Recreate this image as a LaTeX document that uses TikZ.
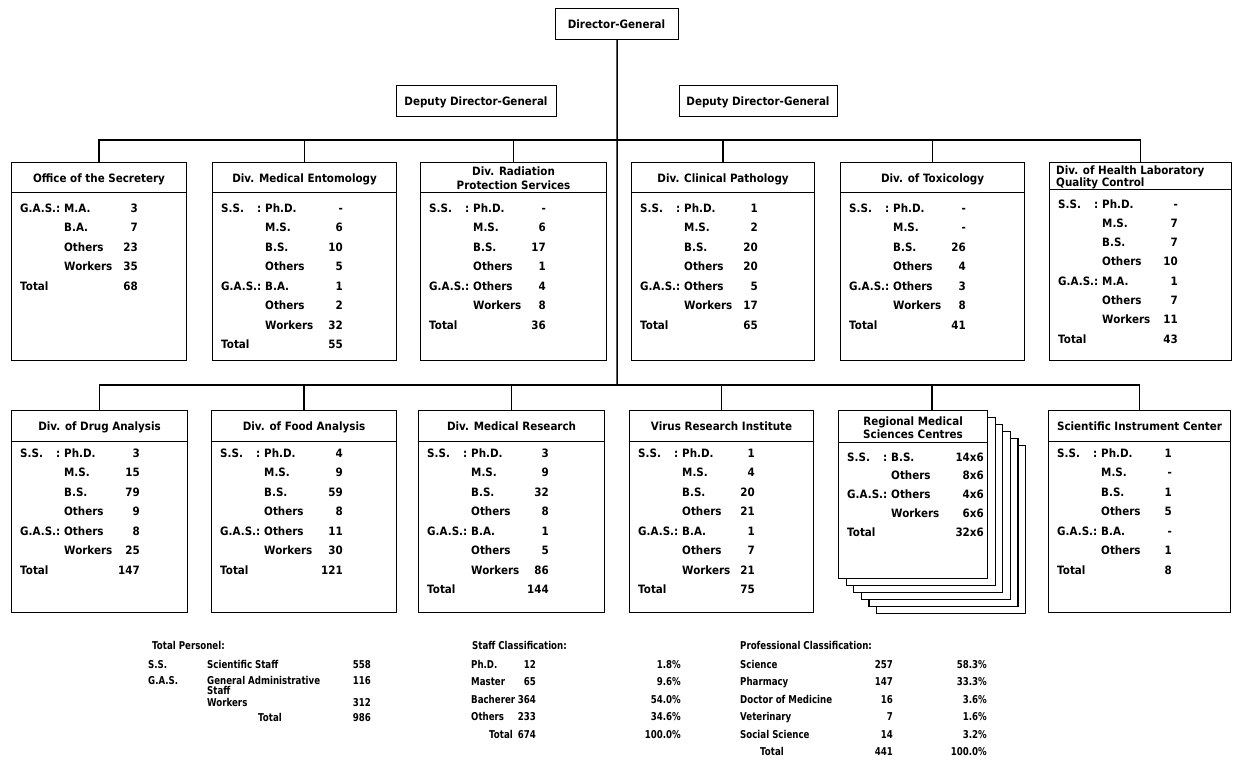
\documentclass[tikz,border=0pt]{standalone}
\usepackage{fontspec}
\setmainfont{DejaVu Sans}
\newfontfamily\boxfam{DejaVu Sans}[FakeStretch=0.9]
\newfontfamily\sumfam{DejaVu Sans}[FakeStretch=0.8]
\usetikzlibrary{calc}
\newcommand\txt{\boxfam\fontsize{11.5}{13}\selectfont\bfseries}
\newcommand\stxt{\sumfam\fontsize{10.8}{12}\selectfont\bfseries}
\newlength\gasw
% "S.S." padded so that its colon lines up with the one of "G.A.S.:"
\newcommand\SSc{\makebox[\gasw][l]{S.S.\hfill:}}
% rows of a unit box: name, left x, first baseline, row spacing, number column, list
\newcommand\unitrows[6]{%
  \foreach \p/\s/\v [count=\i] in {#6} {
    \node[lbl] (#1-p\i) at (#2+9,  #3+\i*#4-#4) {\p};
    \node[lbl] (#1-s\i) at (#2+53, #3+\i*#4-#4) {\s};
    \node[num] (#1-v\i) at (#2+#5, #3+\i*#4-#4) {\v};
  }}
\begin{document}
\settowidth{\gasw}{\txt G.A.S.:}
\begin{tikzpicture}[x=1pt,y=-1pt,
  unitbox/.style={draw, line width=1.1pt, fill=white, inner sep=0pt, anchor=north west},
  rulel/.style={line width=1pt},
  link/.style={line width=1.5pt},
  lbl/.style={anchor=base west, inner sep=0pt, font=\txt},
  num/.style={anchor=base east, inner sep=0pt, font=\txt},
  hd/.style={anchor=base, inner sep=0pt, font=\txt},
  slbl/.style={anchor=base west, inner sep=0pt, font=\stxt},
  snum/.style={anchor=base east, inner sep=0pt, font=\stxt},
]
\fill[white] (0,0) rectangle (1237,780);
\useasboundingbox (0,0) rectangle (1237,780);

% ---------- management ----------
\node[unitbox, minimum width=123, minimum height=31] (dg) at (555,8) {};
\node[hd] (dg-t) at (616.5,28) {Director-General};
\node[unitbox, minimum width=160, minimum height=31] (ddg1) at (396,85) {};
\node[hd] (ddg1-t) at (476,105) {Deputy Director-General};
\node[unitbox, minimum width=158, minimum height=31] (ddg2) at (679,85) {};
\node[hd] (ddg2-t) at (758,105) {Deputy Director-General};

% ---------- upper row of units ----------
\node[unitbox, minimum width=175, minimum height=198] (b1) at (11,162) {};
\node[unitbox, minimum width=184, minimum height=198] (b2) at (212,162) {};
\node[unitbox, minimum width=186, minimum height=198] (b3) at (420,162) {};
\node[unitbox, minimum width=183, minimum height=198] (b4) at (631,162) {};
\node[unitbox, minimum width=184, minimum height=198] (b5) at (840,162) {};
\node[unitbox, minimum width=182, minimum height=198] (b6) at (1049,162) {};
\foreach \n in {b1,b2,b3,b4,b5}
  \draw[rulel] ($(\n.north west)+(0,30)$) -- ($(\n.north east)+(0,30)$);
\draw[rulel] ($(b6.north west)+(0,27)$) -- ($(b6.north east)+(0,27)$);

\node[hd] (b1-h) at (b1.north |- 0,182) {Office of the Secretery};
\node[hd] (b2-h) at (b2.north |- 0,182) {Div. Medical Entomology};
\node[hd] (b3-h1) at (b3.north |- 0,175) {Div. Radiation};
\node[hd] (b3-h2) at (b3.north |- 0,189) {Protection Services};
\node[hd] (b4-h) at (b4.north |- 0,182) {Div. Clinical Pathology};
\node[hd] (b5-h) at (b5.north |- 0,182) {Div. of Toxicology};
\node[lbl] (b6-h1) at (1056,174) {Div. of Health Laboratory};
\node[lbl] (b6-h2) at (1056,186) {Quality Control};

\unitrows{b1}{11}{212}{19.5}{127}{G.A.S.:/M.A./3, /B.A./7, /Others/23, /Workers/35, Total//68}
\unitrows{b2}{212}{212}{19.5}{131}{\SSc/Ph.D./-, /M.S./6, /B.S./10, /Others/5, G.A.S.:/B.A./1, /Others/2, /Workers/32, Total//55}
\unitrows{b3}{420}{212}{19.5}{126}{\SSc/Ph.D./-, /M.S./6, /B.S./17, /Others/1, G.A.S.:/Others/4, /Workers/8, Total//36}
\unitrows{b4}{631}{212}{19.5}{127}{\SSc/Ph.D./1, /M.S./2, /B.S./20, /Others/20, G.A.S.:/Others/5, /Workers/17, Total//65}
\unitrows{b5}{840}{212}{19.5}{126}{\SSc/Ph.D./-, /M.S./-, /B.S./26, /Others/4, G.A.S.:/Others/3, /Workers/8, Total//41}
\unitrows{b6}{1049}{208}{19.3}{129}{\SSc/Ph.D./-, /M.S./7, /B.S./7, /Others/10, G.A.S.:/M.A./1, /Others/7, /Workers/11, Total//43}

% ---------- lower row of units ----------
\node[unitbox, minimum width=176, minimum height=202] (c1) at (11,410) {};
\node[unitbox, minimum width=185, minimum height=202] (c2) at (211,410) {};
\node[unitbox, minimum width=186, minimum height=202] (c3) at (418,410) {};
\node[unitbox, minimum width=184, minimum height=202] (c4) at (629,410) {};
% six regional centres drawn as a stack of cards
\foreach \k in {5,4,3,2,1}
  \node[unitbox, minimum width=149, minimum height=168] (rc\k) at (838+7.6*\k,410+7*\k) {};
\node[unitbox, minimum width=149, minimum height=168] (c5) at (838,410) {};
\node[unitbox, minimum width=182, minimum height=202] (c6) at (1048,410) {};
\foreach \n in {c1,c2,c3,c4,c6}
  \draw[rulel] ($(\n.north west)+(0,31)$) -- ($(\n.north east)+(0,31)$);
\draw[rulel] ($(c5.north west)+(0,32)$) -- ($(c5.north east)+(0,32)$);

\node[hd] (c1-h) at (c1.north |- 0,430) {Div. of Drug Analysis};
\node[hd] (c2-h) at (c2.north |- 0,430) {Div. of Food Analysis};
\node[hd] (c3-h) at (c3.north |- 0,430) {Div. Medical Research};
\node[hd] (c4-h) at (c4.north |- 0,430) {Virus Research Institute};
\node[hd] (c5-h1) at (c5.north |- 0,425) {Regional Medical};
\node[hd] (c5-h2) at (c5.north |- 0,438) {Sciences Centres};
\node[hd] (c6-h) at (c6.north |- 0,430) {Scientific Instrument Center};

\unitrows{c1}{11}{457}{19.5}{129}{\SSc/Ph.D./3, /M.S./15, /B.S./79, /Others/9, G.A.S.:/Others/8, /Workers/25, Total//147}
\unitrows{c2}{211}{457}{19.5}{132}{\SSc/Ph.D./4, /M.S./9, /B.S./59, /Others/8, G.A.S.:/Others/11, /Workers/30, Total//121}
\unitrows{c3}{418}{457}{19.5}{131}{\SSc/Ph.D./3, /M.S./9, /B.S./32, /Others/8, G.A.S.:/B.A./1, /Others/5, /Workers/86, Total//144}
\unitrows{c4}{629}{457}{19.5}{126}{\SSc/Ph.D./1, /M.S./4, /B.S./20, /Others/21, G.A.S.:/B.A./1, /Others/7, /Workers/21, Total//75}
\unitrows{c5}{838}{461}{18.8}{146}{\SSc/B.S./14x6, /Others/8x6, G.A.S.:/Others/4x6, /Workers/6x6, Total//32x6}
\unitrows{c6}{1048}{457}{19.5}{124}{\SSc/Ph.D./1, /M.S./-, /B.S./1, /Others/5, G.A.S.:/B.A./-, /Others/1, Total//8}

% ---------- connectors ----------
\coordinate (busT) at (617,140);
\coordinate (busB) at (617,385);
\coordinate (rcTop) at ($(c5.north west)+(94,0)$);
\draw[link] (dg.south) -- (busB);
\draw[link] (b1.north) |- (busT) -| (b6.north);
\foreach \n in {b2,b3,b4,b5}
  \draw[link] (\n.north) -- (\n.north |- busT);
\draw[link] (c1.north) |- (busB) -| (c6.north);
\foreach \n in {c2,c3,c4}
  \draw[link] (\n.north) -- (\n.north |- busB);
\draw[link] (rcTop) -- (rcTop |- busB);

% ---------- summary tables ----------
\node[slbl] (tp-h) at (152,649) {Total Personel:};
\node[slbl] (tp-a1) at (148,668) {S.S.};
\node[slbl] (tp-b1) at (207,668) {Scientific Staff};
\node[snum] (tp-c1) at (371,668) {558};
\node[slbl] (tp-a2) at (148,684) {G.A.S.};
\node[slbl] (tp-b2) at (207,684) {General Administrative};
\node[snum] (tp-c2) at (371,684) {116};
\node[slbl] (tp-b3) at (207,694.5) {Staff};
\node[slbl] (tp-b4) at (207,706) {Workers};
\node[snum] (tp-c4) at (371,706) {312};
\node[slbl] (tp-b5) at (258,721) {Total};
\node[snum] (tp-c5) at (371,721) {986};

\node[slbl] (sc-h) at (472,649) {Staff Classification:};
\foreach \a/\b/\c [count=\i] in {Ph.D./12/1.8\%, Master/65/9.6\%, Bacherer/364/54.0\%, Others/233/34.6\%} {
  \node[slbl] (sc-a\i) at (471,651+\i*17.4) {\a};
  \node[snum] (sc-b\i) at (536,651+\i*17.4) {\b};
  \node[snum] (sc-c\i) at (681,651+\i*17.4) {\c};
}
\node[slbl] (sc-a5) at (489,738) {Total};
\node[snum] (sc-b5) at (536,738) {674};
\node[snum] (sc-c5) at (681,738) {100.0\%};

\node[slbl] (pc-h) at (740,649) {Professional Classification:};
\foreach \a/\b/\c [count=\i] in {Science/257/58.3\%, Pharmacy/147/33.3\%, Doctor of Medicine/16/3.6\%, Veterinary/7/1.6\%, Social Science/14/3.2\%} {
  \node[slbl] (pc-a\i) at (740,651+\i*17.4) {\a};
  \node[snum] (pc-b\i) at (893,651+\i*17.4) {\b};
  \node[snum] (pc-c\i) at (987,651+\i*17.4) {\c};
}
\node[slbl] (pc-a6) at (760,755) {Total};
\node[snum] (pc-b6) at (893,755) {441};
\node[snum] (pc-c6) at (987,755) {100.0\%};
\end{tikzpicture}
\end{document}
